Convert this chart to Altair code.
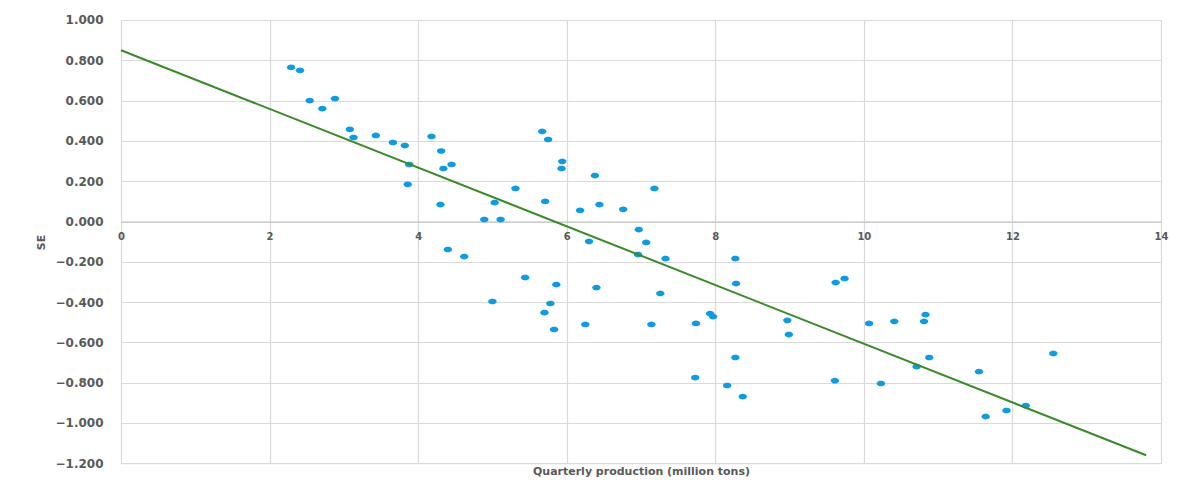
import math
import altair as alt
import pandas as pd

# Quarterly production (million tons) and SE values
production = [2.29, 2.41, 2.54, 2.71, 2.88, 3.08, 3.13, 3.43, 3.66, 3.82,
              3.88, 3.86, 4.18, 4.31, 4.34, 4.45, 4.30, 4.40, 4.62, 4.89,
              5.03, 5.11, 5.00, 5.31, 5.44, 5.67, 5.75, 5.71, 5.70, 5.78,
              5.86, 5.83, 5.94, 5.93, 6.18, 6.30, 6.25, 6.38, 6.44, 6.40,
              6.76, 6.97, 7.07, 6.96, 7.18, 7.33, 7.26, 7.14, 7.74, 7.73,
              7.93, 7.97, 8.27, 8.28, 8.27, 8.16, 8.37, 8.97, 8.99, 9.62,
              9.74, 9.61, 10.07, 10.23, 10.41, 10.81, 10.83, 10.88, 10.71, 11.55,
              11.64, 11.92, 12.18, 12.55]
se_values = [0.765, 0.750, 0.600, 0.560, 0.610, 0.457, 0.417, 0.427, 0.392, 0.377,
             0.283, 0.184, 0.422, 0.350, 0.263, 0.283, 0.084, -0.139, -0.174, 0.010,
             0.094, 0.010, -0.397, 0.164, -0.278, 0.447, 0.407, 0.100, -0.452, -0.407,
             -0.313, -0.536, 0.298, 0.263, 0.055, -0.099, -0.511, 0.228, 0.084, -0.328,
             0.060, -0.040, -0.104, -0.164, 0.164, -0.184, -0.357, -0.511, -0.506, -0.775,
             -0.457, -0.472, -0.184, -0.308, -0.675, -0.814, -0.869, -0.491, -0.561, -0.303,
             -0.283, -0.790, -0.506, -0.804, -0.496, -0.496, -0.462, -0.675, -0.720, -0.745,
             -0.968, -0.938, -0.914, -0.655]

# Linear trendline end points
trend_x = [0.0, 13.8]
trend_y = [0.85, -1.16]

x_ticks = [0, 2, 4, 6, 8, 10, 12, 14]
y_ticks = [1.0, 0.8, 0.6, 0.4, 0.2, 0.0, -0.2, -0.4, -0.6, -0.8, -1.0, -1.2]

points = pd.DataFrame({"x": production, "y": se_values})
trend = pd.DataFrame({"x": trend_x, "y": trend_y})

# ellipse marker shape (wide, like the reference's stretched dots)
n = 20
ellipse = "M" + " L".join(
    f"{math.cos(2 * math.pi * i / n):.3f},{0.68 * math.sin(2 * math.pi * i / n):.3f}"
    for i in range(n)
) + " Z"

FONT = "DejaVu Sans"
TXT = "#595959"
GRID = "#D9D9D9"

x_scale = alt.Scale(domain=[0, 14], nice=False, zero=False)
y_scale = alt.Scale(domain=[-1.2, 1.0], nice=False, zero=False)

PLOT_H = 443.3
zero_from_bottom = PLOT_H * 1.2 / 2.2

x_axis = alt.Axis(
    values=x_ticks, format="d", grid=True, gridColor=GRID, gridWidth=1.2, ticks=False,
    domain=True, domainColor="#BFBFBF", domainWidth=1.2,
    offset=-zero_from_bottom, labelPadding=10,
    labelFont=FONT, labelFontSize=10, labelFontWeight="bold", labelColor=TXT,
    labelFlush=False,
    title="Quarterly production (million tons)", titleFont=FONT, titleFontSize=11,
    titleFontWeight="bold", titleColor=TXT, titleBaseline="middle",
    titleY=zero_from_bottom + 8,
)
y_axis = alt.Axis(
    values=y_ticks, format=".3f", grid=True, gridColor=GRID, gridWidth=1.2,
    ticks=False, domain=False, labelPadding=18,
    labelFont=FONT, labelFontSize=12, labelFontWeight="bold", labelColor=TXT,
    title="SE", titleFont=FONT, titleFontSize=11, titleFontWeight="bold",
    titleColor=TXT, titleX=-75, titleY=222,
)

dots = alt.Chart(points).mark_point(
    shape=ellipse, filled=True, size=70, color="#0E9BE0", opacity=1
).encode(
    x=alt.X("x:Q", scale=x_scale, axis=x_axis),
    y=alt.Y("y:Q", scale=y_scale, axis=y_axis),
)

line = alt.Chart(trend).mark_line(color="#3A8A29", strokeWidth=2).encode(
    x=alt.X("x:Q", scale=x_scale),
    y=alt.Y("y:Q", scale=y_scale),
)

chart = alt.layer(dots, line).properties(
    width=1040, height=PLOT_H, autosize="none",
    padding={"left": 113, "top": 12, "right": 12, "bottom": 14},
).configure_view(strokeWidth=0).configure(background="white")

chart.save("out.html", embed_options={"renderer": "svg", "actions": False})
